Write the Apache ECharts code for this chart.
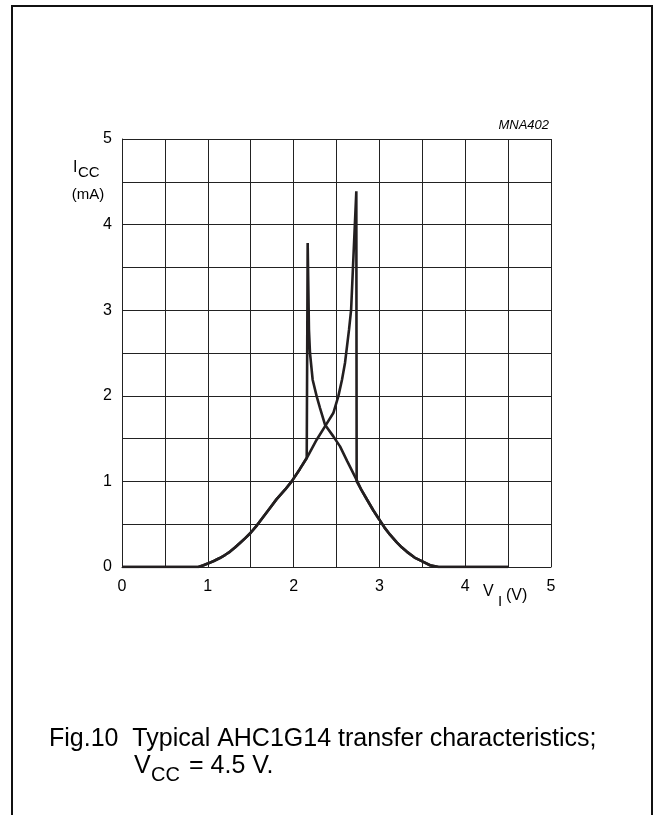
<!DOCTYPE html>
<html>
<head>
<meta charset="utf-8">
<script src="https://cdn.jsdelivr.net/npm/echarts@6/dist/echarts.min.js"></script>
<style>
  html, body { margin: 0; padding: 0; background: #fff; }
  #chart { width: 655px; height: 815px; }
</style>
</head>
<body>
<div id="chart"></div>
<script>
// Axis ticks (V_I in volts, I_CC in mA)
const xTicks = [0, 1, 2, 3, 4, 5];
const yTicks = [0, 1, 2, 3, 4, 5];

// Curve for increasing input voltage (switches at the upper threshold)
const upV = [0, 0.89, 0.95, 1.0, 1.07, 1.14, 1.2, 1.26, 1.32, 1.375, 1.44, 1.5, 1.575, 1.65, 1.725, 1.8, 1.9, 1.978, 2.07, 2.153, 2.269, 2.366, 2.463, 2.521, 2.564, 2.599, 2.646, 2.67, 2.731, 2.735, 2.743, 2.79, 2.86, 2.93, 3.0, 3.06, 3.124, 3.2, 3.26, 3.318, 3.41, 3.5, 3.59, 3.69, 4.5];
const upI = [0, 0, 0.02, 0.04, 0.07, 0.105, 0.14, 0.18, 0.23, 0.28, 0.34, 0.40, 0.49, 0.59, 0.69, 0.79, 0.903, 1.0, 1.14, 1.273, 1.487, 1.643, 1.799, 1.993, 2.188, 2.383, 2.772, 3.0, 4.39, 1.0, 1.0, 0.9, 0.78, 0.66, 0.553, 0.46, 0.377, 0.29, 0.23, 0.18, 0.11, 0.065, 0.02, 0, 0];

// Curve for decreasing input voltage (switches at the lower threshold)
const downV = [0, 0.89, 0.95, 1.0, 1.07, 1.14, 1.2, 1.26, 1.32, 1.375, 1.44, 1.5, 1.575, 1.65, 1.725, 1.8, 1.9, 1.978, 2.07, 2.153, 2.155, 2.164, 2.179, 2.191, 2.222, 2.269, 2.308, 2.366, 2.463, 2.541, 2.626, 2.743, 2.79, 2.86, 2.93, 3.0, 3.06, 3.124, 3.2, 3.26, 3.318, 3.41, 3.5, 3.59, 3.69, 4.5];
const downI = [0, 0, 0.02, 0.04, 0.07, 0.105, 0.14, 0.18, 0.23, 0.28, 0.34, 0.40, 0.49, 0.59, 0.69, 0.79, 0.903, 1.0, 1.14, 1.273, 1.273, 3.785, 2.772, 2.50, 2.188, 1.993, 1.857, 1.662, 1.526, 1.409, 1.234, 1.0, 0.9, 0.78, 0.66, 0.553, 0.46, 0.377, 0.29, 0.23, 0.18, 0.11, 0.065, 0.02, 0, 0];

const FONT = "'Liberation Sans', Arial, sans-serif";
const INK = '#231f20';

function pairs(xs, ys) { return xs.map((x, i) => [x, ys[i]]); }

const chart = echarts.init(document.getElementById('chart'), null, { renderer: 'canvas' });

chart.setOption({
  backgroundColor: '#fff',
  animation: false,
  grid: { left: 122, right: 104, top: 139, bottom: 248, containLabel: false },
  xAxis: {
    type: 'value', min: 0, max: 5, interval: 0.5,
    axisLine: { show: true, lineStyle: { color: '#222', width: 1 } },
    axisTick: { show: false },
    splitLine: { show: true, lineStyle: { color: '#222', width: 1 } },
    axisLabel: {
      margin: 12, fontSize: 16, color: '#000', fontFamily: FONT,
      formatter: v => (xTicks.indexOf(v) >= 0 ? String(v) : '')
    }
  },
  yAxis: {
    type: 'value', min: 0, max: 5, interval: 0.5,
    axisLine: { show: true, lineStyle: { color: '#222', width: 1 } },
    axisTick: { show: false },
    splitLine: { show: true, lineStyle: { color: '#222', width: 1 } },
    axisLabel: {
      margin: 10, fontSize: 16, color: '#000', fontFamily: FONT,
      formatter: v => (yTicks.indexOf(v) >= 0 ? String(v) : '')
    }
  },
  series: [
    {
      name: 'increasing VI', type: 'line', data: pairs(upV, upI),
      showSymbol: false, smooth: false,
      lineStyle: { color: INK, width: 2.6 }, z: 3
    },
    {
      name: 'decreasing VI', type: 'line', data: pairs(downV, downI),
      showSymbol: false, smooth: false,
      lineStyle: { color: INK, width: 2.6 }, z: 3
    }
  ],
  graphic: [
    { type: 'polyline', shape: { points: [[12, 815], [12, 6], [652, 6], [652, 815]] },
      style: { stroke: '#111', lineWidth: 2, fill: null }, silent: true },
    { type: 'text', style: { text: 'MNA402', x: 549, y: 125, align: 'right', verticalAlign: 'middle',
      font: "italic 13px " + FONT, fill: '#000' } },
    { type: 'text', style: { text: 'I', x: 73, y: 176, verticalAlign: 'bottom', font: "16px " + FONT, fill: '#000' } },
    { type: 'text', style: { text: 'CC', x: 78, y: 180, verticalAlign: 'bottom', font: "15px " + FONT, fill: '#000' } },
    { type: 'text', style: { text: '(mA)', x: 88, y: 195, align: 'center', verticalAlign: 'middle', font: "15px " + FONT, fill: '#000' } },
    { type: 'text', style: { text: 'V', x: 483, y: 600, verticalAlign: 'bottom', font: "16px " + FONT, fill: '#000' } },
    { type: 'text', style: { text: 'I', x: 498, y: 609, verticalAlign: 'bottom', font: "15px " + FONT, fill: '#000' } },
    { type: 'text', style: { text: '(V)', x: 506, y: 604, verticalAlign: 'bottom', font: "16px " + FONT, fill: '#000' } },
    { type: 'text', style: { text: 'Fig.10  Typical AHC1G14 transfer characteristics;', x: 49, y: 752,
      verticalAlign: 'bottom', font: "25px " + FONT, fill: '#000' } },
    { type: 'text', style: { text: 'V', x: 134, y: 779, verticalAlign: 'bottom', font: "25px " + FONT, fill: '#000' } },
    { type: 'text', style: { text: 'CC', x: 151, y: 785, verticalAlign: 'bottom', font: "20px " + FONT, fill: '#000' } },
    { type: 'text', style: { text: '= 4.5 V.', x: 189, y: 779, verticalAlign: 'bottom', font: "25px " + FONT, fill: '#000' } }
  ]
});
</script>
</body>
</html>
